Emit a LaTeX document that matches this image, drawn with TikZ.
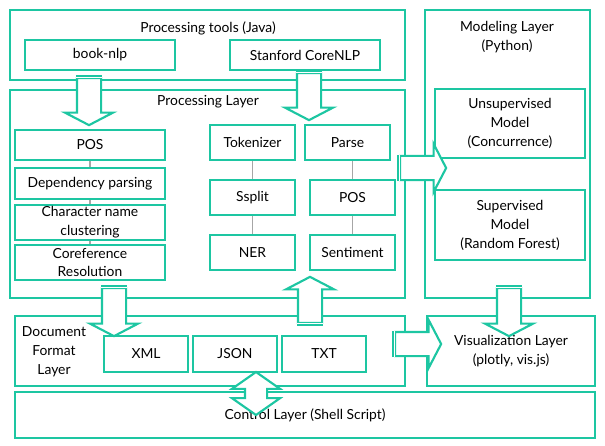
\documentclass[tikz,border=0pt]{standalone}
\usepackage{fontspec}
\setmainfont{Lato}
\usetikzlibrary{positioning,shapes.arrows}
\definecolor{tealline}{HTML}{1DC6A2}

\tikzset{
  layer/.style={draw=tealline, line width=1.6pt, inner sep=0pt},
  box/.style={draw=tealline, line width=1.6pt, align=center, inner sep=0pt},
  title/.style={align=center, inner sep=0pt},
  link/.style={draw=gray!70, line width=0.9pt},
  blockarrow/.style={single arrow, draw=tealline, fill=white, line width=1.6pt, inner sep=8.25pt, single arrow head extend=9pt, single arrow tip angle=125, minimum width=34.5pt},
  twoarrow/.style={double arrow, draw=tealline, fill=white, line width=1.6pt, inner sep=7.5pt, double arrow head extend=9.75pt, double arrow tip angle=110, minimum width=34.5pt},
  tailbar/.style={draw=tealline, line width=1.3pt, double=white, double distance=0.8pt}
}

\begin{document}
\begin{tikzpicture}[x=0.75pt, y=-0.75pt, font=\fontsize{10.4}{14.2}\selectfont]
\useasboundingbox (0,0) rectangle (605,445);

\node[layer, minimum width=296.25pt, minimum height=52.5pt] (tools) at (207.5,45) {};
\node[title] (toolstitle) at (208,28) {Processing tools (Java)};
\node[box, minimum width=112.5pt, minimum height=22.5pt] (booknlp) at (100,55) {book-nlp};
\node[box, minimum width=112.5pt, minimum height=22.5pt] (corenlp) at (305,55) {Stanford CoreNLP};

\node[layer, minimum width=296.25pt, minimum height=156pt] (proc) at (207.5,194) {};
\node[title] (proctitle) at (208,102) {Processing Layer};

\node[box, minimum width=112.5pt, minimum height=22.5pt] (pos1) at (90,145) {POS};
\node[box, minimum width=112.5pt, minimum height=23.25pt] (dep) at (90,183.5) {Dependency parsing};
\node[box, minimum width=112.5pt, minimum height=26.25pt] (charname) at (90,222.5) {Character name\\clustering};
\node[box, minimum width=112.5pt, minimum height=26.25pt] (coref) at (90,262.5) {Coreference\\Resolution};

\node[box, minimum width=63.75pt, minimum height=26.25pt] (tok) at (252.5,142.5) {Tokenizer};
\node[box, minimum width=63.75pt, minimum height=26.25pt] (parse) at (347.5,142.5) {Parse};
\node[box, minimum width=63.75pt, minimum height=26.25pt] (ssplit) at (252.5,197.5) {Ssplit};
\node[box, minimum width=63.75pt, minimum height=26.25pt] (pos2) at (352.5,197.5) {POS};
\node[box, minimum width=63.75pt, minimum height=26.25pt] (ner) at (252.5,252.5) {NER};
\node[box, minimum width=63.75pt, minimum height=26.25pt] (senti) at (352.5,252.5) {Sentiment};

\draw[link] (pos1) -- (dep);
\draw[link] (dep) -- (charname);
\draw[link] (charname) -- (coref);
\draw[link] (tok) -- (ssplit);
\draw[link] (ssplit) -- (ner);
\draw[link] (pos2.north |- parse.south) -- (pos2.north);
\draw[link] (pos2) -- (senti);

\node[layer, minimum width=123.75pt, minimum height=216pt] (model) at (507.5,154) {};
\node[title] (modeltitle) at (507,37) {Modeling Layer\\(Python)};
\node[box, minimum width=112.5pt, minimum height=51.75pt] (unsup) at (510,123.5) {Unsupervised\\Model\\(Concurrence)};
\node[box, minimum width=112.5pt, minimum height=52.5pt] (sup) at (510,225) {Supervised\\Model\\(Random Forest)};

\node[layer, minimum width=292.5pt, minimum height=52.5pt] (docfmt) at (210,351) {};
\node[title] (doctitle) at (54,352) {Document\\Format\\Layer};
\node[box, minimum width=63pt, minimum height=27pt] (xml) at (146,354) {XML};
\node[box, minimum width=63pt, minimum height=27pt] (json) at (235,354) {JSON};
\node[box, minimum width=63pt, minimum height=27pt] (txt) at (324,354) {TXT};

\node[box, minimum width=126pt, minimum height=52.5pt] (vis) at (511,351) {Visualization Layer\\(plotly, vis.js)};
\node[box, minimum width=435pt, minimum height=34.5pt] (control) at (305,415) {Control Layer (Shell Script)};

\node[blockarrow, rotate=-90, minimum height=35.25pt] (arrA) at (89,98.5) {};
\node[blockarrow, rotate=-90, minimum height=35.25pt] (arrB) at (309,93.5) {};
\node[blockarrow, minimum height=34.5pt] (arrC) at (420,168) {};
\node[blockarrow, rotate=-90, minimum height=36pt] (arrD) at (114,309) {};
\node[blockarrow, rotate=90, minimum height=34.5pt] (arrE) at (310,303) {};
\node[blockarrow, rotate=-90, minimum height=36pt] (arrF) at (509,309) {};
\node[blockarrow, minimum height=34.5pt] (arrG) at (415,344) {};
\node[twoarrow, rotate=90, minimum height=32.25pt] (arrH) at (256,393.5) {};

\draw[tailbar] (arrA.before tail) -- (arrA.after tail);
\draw[tailbar] (arrB.before tail) -- (arrB.after tail);
\draw[tailbar] (arrC.before tail) -- (arrC.after tail);
\draw[tailbar] (arrD.before tail) -- (arrD.after tail);
\draw[tailbar] (arrE.before tail) -- (arrE.after tail);
\draw[tailbar] (arrF.before tail) -- (arrF.after tail);
\draw[tailbar] (arrG.before tail) -- (arrG.after tail);

\end{tikzpicture}
\end{document}
